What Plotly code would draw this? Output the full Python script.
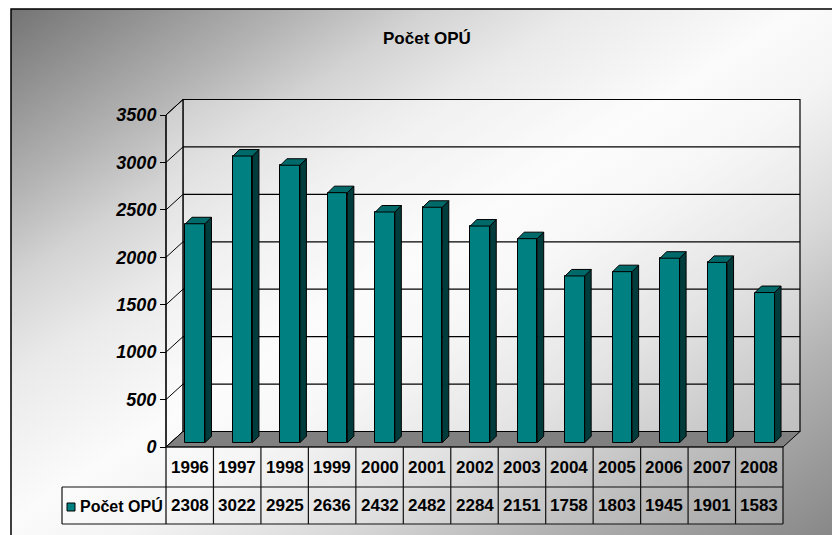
import base64
import plotly.graph_objects as go

# ---------------- data ----------------
years = ["1996", "1997", "1998", "1999", "2000", "2001", "2002",
         "2003", "2004", "2005", "2006", "2007", "2008"]
values = [2308, 3022, 2925, 2636, 2432, 2482, 2284, 2151, 1758, 1803, 1945, 1901, 1583]
series_name = "Počet OPÚ"
title_text = "Počet OPÚ"
y_ticks = [0, 500, 1000, 1500, 2000, 2500, 3000, 3500]

# ---------------- layout constants (pixels) ----------------
W, H = 832, 535
AX_LEFT_PX, AX_RIGHT_PX = 166, 783      # front edge of floor / table
ZERO_PX, TOP_PX = 447, 115              # front y of 0 and of 3500
COL_W = (AX_RIGHT_PX - AX_LEFT_PX) / len(years)
K = (ZERO_PX - TOP_PX) / y_ticks[-1]    # px per unit


def dx(px):
    return px / COL_W


def dy(px):
    return px / K


DEPTH_X, DEPTH_Y = dx(17), dy(15.5)     # wall depth
BAR_SHIFT_X, BAR_BASE = dx(5.5), dy(4.3)
BAR_W = dx(19.5)
BAR_DX, BAR_DY = dx(6.5), dy(6.5)

ROW1_BOTTOM = -dy(487 - ZERO_PX)
ROW2_BOTTOM = -dy(524 - ZERO_PX)
LEG_LEFT = -0.5 - dx(AX_LEFT_PX - 62)

x_lo = -0.5 - dx(AX_LEFT_PX)
x_hi = -0.5 + dx(W - AX_LEFT_PX)
y_lo = -dy(H - ZERO_PX)
y_hi = dy(ZERO_PX)

n = len(years)
xs = list(range(n))
x_left, x_right = -0.5, n - 0.5
y_max = y_ticks[-1]

TEAL = "#008080"
TEAL_TOP = "#006a6a"
TEAL_SIDE = "#003c3c"
FONT = "Liberation Sans, Arial, sans-serif"

# ---------------- background gradient as SVG image ----------------
svg = f'''<svg xmlns="http://www.w3.org/2000/svg" width="{W}" height="{H}" viewBox="0 0 {W} {H}" preserveAspectRatio="none">
<defs><linearGradient id="g" x1="0" y1="0" x2="1" y2="1">
<stop offset="0" stop-color="#747474"/>
<stop offset="0.17" stop-color="#b3b3b3"/>
<stop offset="0.25" stop-color="#d3d3d3"/>
<stop offset="0.34" stop-color="#eaeaea"/>
<stop offset="0.47" stop-color="#fbfbfb"/>
<stop offset="0.55" stop-color="#f4f4f4"/>
<stop offset="0.68" stop-color="#d8d8d8"/>
<stop offset="0.8" stop-color="#b2b2b2"/>
<stop offset="1" stop-color="#808080"/>
</linearGradient></defs>
<rect x="0" y="0" width="{W}" height="{H}" fill="#ffffff"/>
<rect x="11" y="9" width="{W + 10}" height="{H + 10}" fill="url(#g)" stroke="#000000" stroke-width="1.5"/>
</svg>'''
bg_src = "data:image/svg+xml;base64," + base64.b64encode(svg.encode("utf-8")).decode("ascii")

fig = go.Figure()

# ---------------- 3D bars ----------------
fig.add_trace(go.Bar(
    x=[i + BAR_SHIFT_X for i in xs], y=values, base=BAR_BASE, width=BAR_W,
    marker=dict(color=TEAL, line=dict(color="black", width=1)),
    hoverinfo="skip", showlegend=False))

side_x, side_y, top_x, top_y = [], [], [], []
for i, v in zip(xs, values):
    xl = i + BAR_SHIFT_X - BAR_W / 2
    xr = i + BAR_SHIFT_X + BAR_W / 2
    y0, y1 = BAR_BASE, BAR_BASE + v
    side_x += [xr, xr + BAR_DX, xr + BAR_DX, xr, xr, None]
    side_y += [y0, y0 + BAR_DY, y1 + BAR_DY, y1, y0, None]
    top_x += [xl, xr, xr + BAR_DX, xl + BAR_DX, xl, None]
    top_y += [y1, y1, y1 + BAR_DY, y1 + BAR_DY, y1, None]

fig.add_trace(go.Scatter(x=side_x, y=side_y, mode="lines", fill="toself",
                         fillcolor=TEAL_SIDE, line=dict(color="black", width=1),
                         hoverinfo="skip", showlegend=False))
fig.add_trace(go.Scatter(x=top_x, y=top_y, mode="lines", fill="toself",
                         fillcolor=TEAL_TOP, line=dict(color="black", width=1),
                         hoverinfo="skip", showlegend=False))

shapes = []
WALL_FILL = "rgba(255,255,255,0.3)"
# back wall
shapes.append(dict(type="rect", xref="x", yref="y", layer="below",
                   x0=x_left + DEPTH_X, x1=x_right + DEPTH_X,
                   y0=DEPTH_Y, y1=y_max + DEPTH_Y,
                   fillcolor=WALL_FILL, line=dict(color="black", width=1.2)))
# side wall
shapes.append(dict(type="path", xref="x", yref="y", layer="below",
                   path=f"M{x_left},0 L{x_left},{y_max} L{x_left + DEPTH_X},{y_max + DEPTH_Y} "
                        f"L{x_left + DEPTH_X},{DEPTH_Y} Z",
                   fillcolor=WALL_FILL, line=dict(color="black", width=1)))
# gridlines + side diagonals
for t in y_ticks:
    if 0 < t < y_max:
        shapes.append(dict(type="line", xref="x", yref="y", layer="below",
                           x0=x_left + DEPTH_X, x1=x_right + DEPTH_X,
                           y0=t + DEPTH_Y, y1=t + DEPTH_Y,
                           line=dict(color="black", width=1.2)))
    shapes.append(dict(type="line", xref="x", yref="y", layer="below",
                       x0=x_left, x1=x_left + DEPTH_X, y0=t, y1=t + DEPTH_Y,
                       line=dict(color="black", width=1)))
# floor
shapes.append(dict(type="path", xref="x", yref="y", layer="below",
                   path=f"M{x_left},0 L{x_right},0 L{x_right + DEPTH_X},{DEPTH_Y} "
                        f"L{x_left + DEPTH_X},{DEPTH_Y} Z",
                   fillcolor="#808080", line=dict(color="black", width=1)))

# data table
shapes.append(dict(type="rect", xref="x", yref="y", layer="below",
                   x0=x_left, x1=x_right, y0=ROW2_BOTTOM, y1=0,
                   fillcolor="rgba(255,255,255,0.18)", line=dict(width=0)))
shapes.append(dict(type="rect", xref="x", yref="y", layer="below",
                   x0=LEG_LEFT, x1=x_left, y0=ROW2_BOTTOM, y1=ROW1_BOTTOM,
                   fillcolor="rgba(255,255,255,0.18)", line=dict(width=0)))
tline = dict(color="#111111", width=1.2)
shapes.append(dict(type="line", xref="x", yref="y", x0=x_left, x1=x_right, y0=0, y1=0, line=tline))
for yy in (ROW1_BOTTOM, ROW2_BOTTOM):
    shapes.append(dict(type="line", xref="x", yref="y", x0=LEG_LEFT, x1=x_right,
                       y0=yy, y1=yy, line=tline))
for k in range(1, n + 1):
    shapes.append(dict(type="line", xref="x", yref="y", x0=k - 0.5, x1=k - 0.5,
                       y0=ROW2_BOTTOM, y1=0, line=tline))
shapes.append(dict(type="line", xref="x", yref="y", x0=LEG_LEFT, x1=LEG_LEFT,
                   y0=ROW2_BOTTOM, y1=ROW1_BOTTOM, line=tline))
# front axis line
shapes.append(dict(type="line", xref="x", yref="y", x0=x_left, x1=x_left,
                   y0=ROW2_BOTTOM, y1=y_max, line=dict(color="black", width=1.2)))
# legend key
shapes.append(dict(type="rect", xref="x", yref="y",
                   x0=LEG_LEFT + dx(5), x1=LEG_LEFT + dx(13),
                   y0=-dy(511 - ZERO_PX), y1=-dy(503 - ZERO_PX),
                   fillcolor=TEAL, line=dict(color="black", width=1)))

annotations = []
row1_mid = ROW1_BOTTOM / 2
row2_mid = (ROW1_BOTTOM + ROW2_BOTTOM) / 2
tfont = dict(family=FONT, size=17, color="black", weight="bold")
lfont = dict(family=FONT, size=16, color="black", weight="bold")
for i, (yr, v) in enumerate(zip(years, values)):
    annotations.append(dict(x=i, y=row1_mid, xref="x", yref="y", text=yr,
                            showarrow=False, xanchor="center", yanchor="middle", font=tfont))
    annotations.append(dict(x=i, y=row2_mid, xref="x", yref="y", text=str(v),
                            showarrow=False, xanchor="center", yanchor="middle", font=tfont))
annotations.append(dict(x=LEG_LEFT + dx(16), y=row2_mid, xref="x", yref="y",
                        text=series_name, showarrow=False, xanchor="left",
                        yanchor="middle", font=lfont))
annotations.append(dict(x=427 / W, y=1 - 39 / H, xref="paper", yref="paper",
                        text=title_text, showarrow=False, xanchor="center",
                        yanchor="middle", font=dict(family=FONT, size=17, color="black",
                                                    weight="bold")))

fig.update_layout(
    width=W, height=H,
    margin=dict(l=0, r=0, t=0, b=0, autoexpand=False),
    paper_bgcolor="white", plot_bgcolor="rgba(0,0,0,0)",
    showlegend=False, bargap=0,
    images=[dict(source=bg_src, xref="paper", yref="paper", x=0, y=1,
                 sizex=1, sizey=1, sizing="stretch", layer="below",
                 xanchor="left", yanchor="top")],
    shapes=shapes, annotations=annotations,
    xaxis=dict(range=[x_lo, x_hi], visible=False, fixedrange=True),
    yaxis=dict(range=[y_lo, y_hi], anchor="free", position=AX_LEFT_PX / W,
               tickvals=y_ticks, ticktext=[str(t) for t in y_ticks],
               ticks="outside", ticklen=6, tickcolor="black", tickwidth=1,
               showgrid=False, zeroline=False, showline=False,
               tickfont=dict(family=FONT, size=18, color="black",
                             weight="bold", style="italic"),
               fixedrange=True),
)

fig.write_html("out.html", config={"displayModeBar": False},
               post_script="document.body.style.margin='0';document.body.style.overflow='hidden';")
